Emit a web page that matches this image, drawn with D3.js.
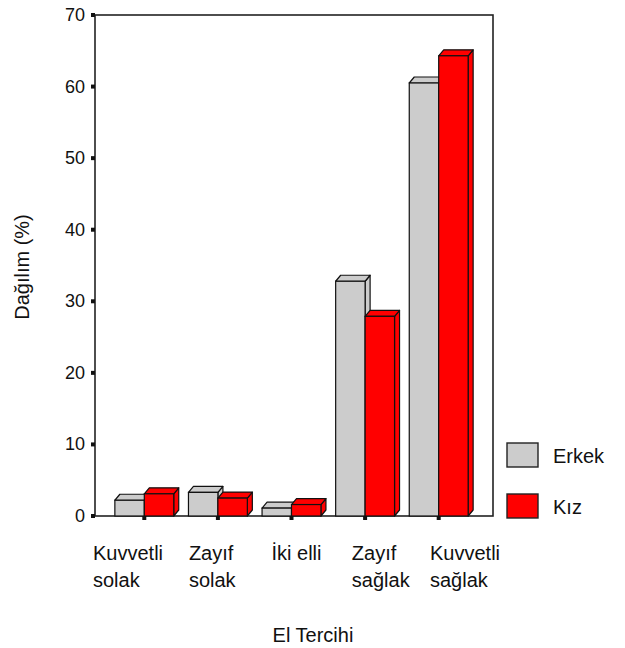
<!DOCTYPE html>
<html>
<head>
<meta charset="utf-8">
<script src="https://cdn.jsdelivr.net/npm/d3@7"></script>
<style>
  html, body { margin: 0; padding: 0; background: #fff; }
  text { font-family: Arial, "Liberation Sans", sans-serif; fill: #111; }
</style>
</head>
<body>
<svg id="chart" width="625" height="648"></svg>
<script>
// Hand preference distribution by sex
const categories = [["Kuvvetli", "solak"], ["Zayıf", "solak"], ["İki elli"], ["Zayıf", "sağlak"], ["Kuvvetli", "sağlak"]];
const erkek = [2.2, 3.3, 1.1, 32.8, 60.5];
const kiz = [3.1, 2.5, 1.6, 27.9, 64.3];
const seriesNames = ["Erkek", "Kız"];
const seriesColors = ["#cccccc", "#ff0000"];
const yTicks = [0, 10, 20, 30, 40, 50, 60, 70];
const yTitle = "Dağılım (%)";
const xTitle = "El Tercihi";

const svg = d3.select("#chart");
const frame = { left: 95, right: 493, top: 15, bottom: 516 };
const depth = { dx: 5, dy: 6 };

const keys = categories.map(c => c.join(" "));
const x = d3.scaleBand().domain(keys).range([107.5, 475.5]);
const y = d3.scaleLinear().domain([0, 70]).range([frame.bottom, frame.top]);
const barW = x.bandwidth() * 0.4;

// plot frame
svg.append("rect")
  .attr("x", frame.left).attr("y", frame.top)
  .attr("width", frame.right - frame.left).attr("height", frame.bottom - frame.top)
  .attr("fill", "none").attr("stroke", "#222").attr("stroke-width", 1.6);

// y axis ticks (small square marks) and labels
const yAxis = svg.append("g");
yTicks.forEach(t => {
  yAxis.append("rect")
    .attr("x", frame.left - 4).attr("y", y(t) - 2)
    .attr("width", 4).attr("height", 4).attr("fill", "#111");
  yAxis.append("text")
    .attr("x", frame.left - 10).attr("y", y(t) + 6)
    .attr("text-anchor", "end").attr("font-size", 18)
    .text(t);
});

// x tick marks at group centres
keys.forEach(k => {
  svg.append("rect")
    .attr("x", x(k) + x.bandwidth() / 2 - 2).attr("y", frame.bottom)
    .attr("width", 4).attr("height", 4).attr("fill", "#111");
});

// 3D bars: front, top face, right side
function bar3d(g, x0, v, fill) {
  const yt = y(v), yb = y(0), w = barW, dx = depth.dx, dy = depth.dy;
  const top = [[x0, yt], [x0 + dx, yt - dy], [x0 + w + dx, yt - dy], [x0 + w, yt]];
  const side = [[x0 + w, yt], [x0 + w + dx, yt - dy], [x0 + w + dx, yb - dy], [x0 + w, yb]];
  const line = d3.line();
  g.append("path").attr("d", line(side) + "Z").attr("fill", fill).attr("stroke", "#111").attr("stroke-width", 1.2).attr("stroke-linejoin", "round");
  g.append("path").attr("d", line(top) + "Z").attr("fill", fill).attr("stroke", "#111").attr("stroke-width", 1.2).attr("stroke-linejoin", "round");
  g.append("rect").attr("x", x0).attr("y", yt).attr("width", w).attr("height", yb - yt)
    .attr("fill", fill).attr("stroke", "#111").attr("stroke-width", 1.2);
}

const bars = svg.append("g");
keys.forEach((k, i) => {
  const c = x(k) + x.bandwidth() / 2;
  const g = bars.append("g");
  bar3d(g, c - barW, erkek[i], seriesColors[0]);
  bar3d(g, c, kiz[i], seriesColors[1]);
});

// category labels: two-line blocks, left aligned, spread across the axis
const labelPos = d3.scalePoint().domain(keys).range([128, 465]);
categories.forEach((lines, i) => {
  const g = svg.append("g");
  const texts = lines.map((ln, j) => g.append("text")
    .attr("y", 560 + j * 27).attr("font-size", 20).attr("text-anchor", "start").text(ln));
  const wMax = d3.max(texts, t => t.node().getComputedTextLength());
  texts.forEach(t => t.attr("x", labelPos(keys[i]) - wMax / 2));
});

// axis titles
svg.append("text")
  .attr("transform", "translate(29,267) rotate(-90)")
  .attr("text-anchor", "middle").attr("font-size", 20)
  .text(yTitle);
svg.append("text")
  .attr("x", 313).attr("y", 642)
  .attr("text-anchor", "middle").attr("font-size", 20)
  .text(xTitle);

// legend
const legend = svg.append("g");
seriesNames.forEach((name, i) => {
  const ly = 443 + i * 51;
  legend.append("rect")
    .attr("x", 507).attr("y", ly).attr("width", 31).attr("height", 24)
    .attr("fill", seriesColors[i]).attr("stroke", "#222").attr("stroke-width", 1.4);
  legend.append("text")
    .attr("x", 553).attr("y", ly + 20).attr("font-size", 20)
    .text(name);
});
</script>
</body>
</html>
